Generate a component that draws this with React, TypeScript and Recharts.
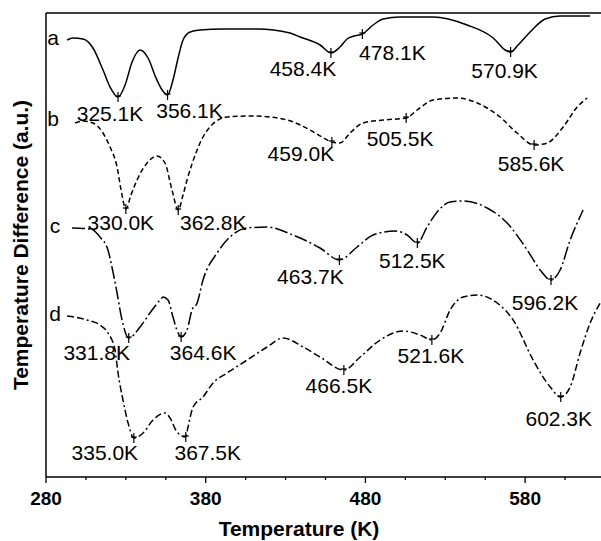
import React from "react";
import { ComposedChart, Line, XAxis, YAxis } from "recharts";

// Temperature (K) and signal (a.u.)
const tempA = [293.2, 296.9, 303.2, 309.4, 315.7, 320.1, 325.1, 329.5, 333.9, 338.9, 343.9, 348.9, 352.7, 356.1, 359.5, 362.7, 365.8, 370.2, 376.4, 390.9, 412.2, 432.8, 439.1, 451.6, 458.4, 464.1, 468.5, 472.9, 478.1, 484.8, 491.1, 501.7, 522.4, 543.7, 560.0, 567.5, 570.9, 575.6, 583.1, 592.5, 601.9, 620.7];
const valA = [437, 439, 438, 429, 407, 390, 380, 392, 415, 427, 419, 399, 387, 382, 397, 419, 437, 445, 447, 448, 448, 444, 440, 432, 424, 430, 438, 441, 443, 452, 458, 460, 460, 452, 439, 427, 425, 432, 445, 458, 461, 461];
const peaksA = [325.1, 356.1, 458.4, 478.1, 570.9];

const tempB = [298.2, 303.2, 309.4, 315.7, 320.1, 324.5, 327.0, 330.0, 333.2, 337.0, 343.3, 349.5, 354.5, 358.9, 362.8, 365.8, 368.3, 374.6, 378.3, 382.7, 393.4, 409.6, 430.9, 445.3, 452.8, 459.0, 464.1, 470.4, 478.5, 491.1, 505.5, 512.4, 522.4, 537.4, 550.0, 564.3, 574.9, 585.6, 593.8, 603.8, 612.6, 618.8];
const valB = [354, 356, 354, 344, 330, 310, 287, 268, 282, 297, 314, 321, 314, 287, 267, 282, 297, 327, 340, 350, 360, 361, 357, 347, 340, 335, 334, 344, 354, 357, 359, 367, 377, 379, 374, 360, 344, 332, 334, 350, 370, 379];
const peaksB = [330.0, 362.8, 459.0, 505.5, 585.6];

const tempC = [296.3, 307.6, 313.8, 318.8, 321.3, 324.5, 327.6, 331.8, 338.9, 345.1, 351.4, 353.3, 356.4, 359.5, 362.7, 364.6, 368.3, 371.4, 374.6, 378.3, 387.1, 395.2, 405.9, 418.4, 434.7, 451.6, 463.7, 474.8, 484.8, 498.6, 506.1, 512.5, 518.6, 524.9, 533.0, 541.2, 556.2, 568.7, 581.3, 589.4, 596.2, 601.9, 608.2, 616.3];
const valC = [249, 248, 240, 227, 210, 184, 157, 139, 150, 164, 177, 180, 177, 160, 144, 140, 147, 167, 174, 197, 224, 240, 249, 250, 242, 229, 217, 230, 242, 246, 242, 234, 250, 265, 275, 276, 269, 254, 227, 207, 197, 207, 237, 267];
const peaksC = [331.8, 364.6, 463.7, 512.5, 596.2];

const tempD = [293.2, 305.7, 313.8, 318.8, 323.2, 325.1, 328.2, 331.4, 335.0, 340.8, 347.0, 354.5, 357.7, 362.0, 367.5, 368.9, 372.1, 378.3, 384.6, 393.4, 405.9, 418.4, 428.4, 441.0, 451.6, 466.5, 476.7, 489.2, 503.6, 514.2, 521.6, 526.8, 533.0, 541.2, 549.9, 562.5, 572.5, 585.0, 595.7, 602.3, 608.2, 614.4, 620.7, 627.0];
const valD = [161, 157, 152, 144, 127, 104, 77, 54, 39, 44, 57, 64, 59, 45, 40, 50, 70, 80, 94, 104, 117, 130, 139, 130, 120, 107, 120, 137, 146, 142, 137, 144, 167, 180, 182, 174, 157, 117, 90, 80, 90, 124, 154, 174];
const peaksD = [335.0, 367.5, 466.5, 521.6, 602.3];

const curveNames = ["a", "b", "c", "d"];
const xTicks = [280, 305, 330, 355, 380, 405, 430, 455, 480, 505, 530, 555, 580, 605, 630];

// label placement (px offsets from the peak mark)
const offA = [[-8, 16], [22, 15], [-28, 15], [30, 18], [-6, 18]];
const offB = [[-5, 13], [35, 12], [-31, 11], [-6, 20], [-3, 18]];
const offC = [[-32, 14], [22, 15], [-29, 16], [-5, 17], [-6, 22]];
const offD = [[-29, 14], [22, 15], [-5, 15], [-1, 15], [-2, 21]];
const nameOff = [[-14, -3], [-22, -5], [-17, -3], [-12, -3]];

const FONT = "'Liberation Sans', Arial, sans-serif";

const build = (t: number[], v: number[]) => t.map((x, i) => ({ t: x, v: v[i] }));

const series = [
  { data: build(tempA, valA), peaks: peaksA, off: offA, dash: undefined },
  { data: build(tempB, valB), peaks: peaksB, off: offB, dash: "5 3" },
  { data: build(tempC, valC), peaks: peaksC, off: offC, dash: "13 3 2 3" },
  { data: build(tempD, valD), peaks: peaksD, off: offD, dash: "7 3 7 3 2 3" },
];

function makeDot(si: number) {
  const s = series[si];
  return (props: any) => {
    const { cx, cy, index, payload } = props;
    const k = s.peaks.indexOf(payload.t);
    const parts: React.ReactNode[] = [];
    if (index === 0) {
      parts.push(
        <text key="n" x={cx + nameOff[si][0]} y={cy + nameOff[si][1]} fontSize={21} fontFamily={FONT} textAnchor="middle" dominantBaseline="central" fill="#000">
          {curveNames[si]}
        </text>
      );
    }
    if (k >= 0) {
      parts.push(
        <g key="p">
          <line x1={cx} x2={cx} y1={cy - 5} y2={cy + 5} stroke="#000" strokeWidth={1.2} />
          <line x1={cx - 3} x2={cx + 3} y1={cy - 1} y2={cy - 1} stroke="#000" strokeWidth={1.2} />
          <text x={cx + s.off[k][0]} y={cy + s.off[k][1]} fontSize={21} fontFamily={FONT} textAnchor="middle" dominantBaseline="central" fill="#000">
            {s.peaks[k].toFixed(1) + "K"}
          </text>
        </g>
      );
    }
    return <g key={`d${si}-${index}`}>{parts}</g>;
  };
}

const XTick = (props: any) => {
  const { x, y, payload } = props;
  const major = (payload.value - 280) % 100 === 0;
  return (
    <g>
      <line x1={x} x2={x} y1={y} y2={y + (major ? 6 : 3)} stroke="#000" strokeWidth={1.3} />
      {major && (
        <text x={x} y={y + 21} fontSize={19} fontWeight="bold" fontFamily={FONT} textAnchor="middle" dominantBaseline="central" fill="#000">
          {payload.value}
        </text>
      )}
    </g>
  );
};

export default function App() {
  return (
    <div style={{ position: "absolute", left: 0, top: 0, width: 601, height: 541, overflow: "hidden", background: "#fff" }}>
      <ComposedChart width={620} height={541} margin={{ top: 12, right: 15, bottom: 63, left: 45 }}>
        <XAxis
          dataKey="t"
          type="number"
          domain={[280, 630]}
          ticks={xTicks}
          interval={0}
          allowDataOverflow
          height={1}
          tickSize={0}
          tickMargin={0}
          tickLine={false}
          axisLine={{ stroke: "#000", strokeWidth: 1.5 }}
          tick={<XTick />}
          label={{
            content: () => (
              <text x={299} y={528} fontSize={21} fontWeight="bold" fontFamily={FONT} textAnchor="middle" dominantBaseline="central" fill="#000">
                Temperature (K)
              </text>
            ),
          }}
        />
        <XAxis xAxisId="top" orientation="top" type="number" domain={[280, 630]} height={1} tick={false} tickLine={false} axisLine={{ stroke: "#000", strokeWidth: 1.5 }} />
        <YAxis
          type="number"
          domain={[0, 464]}
          width={1}
          tick={false}
          tickLine={false}
          axisLine={{ stroke: "#000", strokeWidth: 1.5 }}
          label={{
            content: () => (
              <text x={20} y={245} fontSize={21} fontWeight="bold" fontFamily={FONT} textAnchor="middle" dominantBaseline="central" transform="rotate(-90 20 245)" fill="#000">
                Temperature Difference (a.u.)
              </text>
            ),
          }}
        />
        {series.map((s, i) => (
          <Line
            key={curveNames[i]}
            data={s.data}
            dataKey="v"
            type="monotone"
            stroke="#000"
            strokeWidth={1.5}
            strokeDasharray={s.dash}
            dot={makeDot(i)}
            activeDot={false}
            isAnimationActive={false}
          />
        ))}
      </ComposedChart>
    </div>
  );
}
